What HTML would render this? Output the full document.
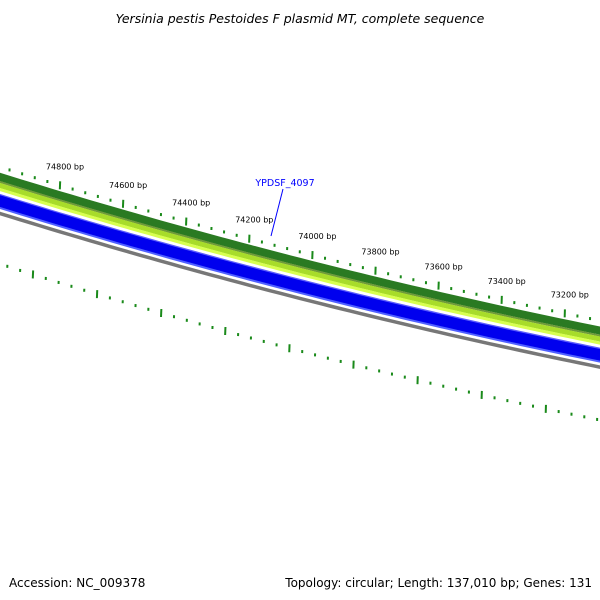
<!DOCTYPE html>
<html><head><meta charset="utf-8"><style>
body{margin:0;background:#fff;}
svg{display:block;font-family:"DejaVu Sans","Liberation Sans",sans-serif;}
</style></head><body>
<svg id="map" width="600" height="600" viewBox="0 0 600 600">
<text x="300" y="23" text-anchor="middle" font-size="12.5" font-style="italic" fill="#000">Yersinia pestis Pestoides F plasmid MT, complete sequence</text>
<g id="bands"></g>
<g id="ticks"></g>
<g>
<line x1="283" y1="189" x2="271" y2="236" stroke="#0000ff" stroke-width="1"/>
<text x="285" y="186" text-anchor="middle" font-size="9.5" fill="#0000ff">YPDSF_4097</text>
</g>
<text x="9" y="587" font-size="12" fill="#000">Accession: NC_009378</text>
<text x="592" y="587" text-anchor="end" font-size="12" fill="#000">Topology: circular; Length: 137,010 bp; Genes: 131</text>
</svg>
<script>
const majorTicks=[74800,74600,74400,74200,74000,73800,73600,73400,73200,73000];
const tickLabels=["74800 bp","74600 bp","74400 bp","74200 bp","74000 bp","73800 bp","73600 bp","73400 bp","73200 bp",""];
const minorStep=40;
const bandLayers=[
 {name:"dark-green-band",off:4,w:8,c:"#2a7a22"},
 {name:"olive-band",off:9,w:2,c:"#6f9a3a"},
 {name:"light-green-band",off:12.5,w:5,c:"#a8dc2a"},
 {name:"yellow-green-band",off:16.5,w:3,c:"#d8ff50"},
 {name:"light-blue-band",off:22,w:2,c:"#5a5aff"},
 {name:"blue-band",off:28.5,w:12,c:"#0000ee"},
 {name:"blue-edge-band",off:35,w:2,c:"#5060ff"},
 {name:"gray-band",off:40.5,w:3.5,c:"#777777"}
];
const NS="http://www.w3.org/2000/svg";
function yTop(x){return 173+0.31*x-0.00009*x*x;}
function yIn(x){return 264+0.32*x-0.0001*x*x;}
function xOuter(bp){return 60+(74800-bp)*0.3155;}
function xInner(bp){return xOuter(bp)*1.016-28;}
const bands=document.getElementById('bands');
bandLayers.forEach(b=>{
 let d="";
 for(let x=-20;x<=620;x+=10){d+=(x===-20?"M":"L")+x+","+(yTop(x)+b.off).toFixed(2);}
 const p=document.createElementNS(NS,'path');
 p.setAttribute('d',d);p.setAttribute('fill','none');p.setAttribute('stroke',b.c);p.setAttribute('stroke-width',b.w);
 
 
 bands.appendChild(p);
});
const ticks=document.getElementById('ticks');
function tick(x,y,len,slope,w){
 const n=Math.hypot(1,slope),nx=-slope/n*0,ny=1/n;
 const dx=slope/n*len/2*0.15, dy=len/2;
 const l=document.createElementNS(NS,'line');
 l.setAttribute('x1',(x+dx).toFixed(2));l.setAttribute('y1',(y-dy).toFixed(2));
 l.setAttribute('x2',(x-dx).toFixed(2));l.setAttribute('y2',(y+dy).toFixed(2));
 l.setAttribute('stroke','#1a8a1a');l.setAttribute('stroke-width',w);
 return l;
}
const start=majorTicks[0]+200, end=majorTicks[majorTicks.length-1]-200;
for(let bp=start;bp>=end;bp-=minorStep){
 const major=(bp%200===0);
 const xo=xOuter(bp), yo=yTop(xo)-6;
 const so=0.31-0.00018*xo;
 const t1=tick(xo,yo,major?8:3,so,major?2:2);
 
 
 ticks.appendChild(t1);
 const xi=xInner(bp), yi=yIn(xi);
 const si=0.32-0.0002*xi;
 const t2=tick(xi,yi,major?8:3,si,2);
 
 
 ticks.appendChild(t2);
}
majorTicks.forEach((bp,i)=>{
 if(!tickLabels[i])return;
 const x=xOuter(bp), y=yTop(x)-22;
 const t=document.createElementNS(NS,'text');
 t.setAttribute('x',(x+5).toFixed(1));t.setAttribute('y',y.toFixed(1));
 t.setAttribute('text-anchor','middle');t.setAttribute('font-size','8');t.setAttribute('fill','#000');
 t.textContent=tickLabels[i];
 
 
 ticks.appendChild(t);
});
</script>
</body></html>
